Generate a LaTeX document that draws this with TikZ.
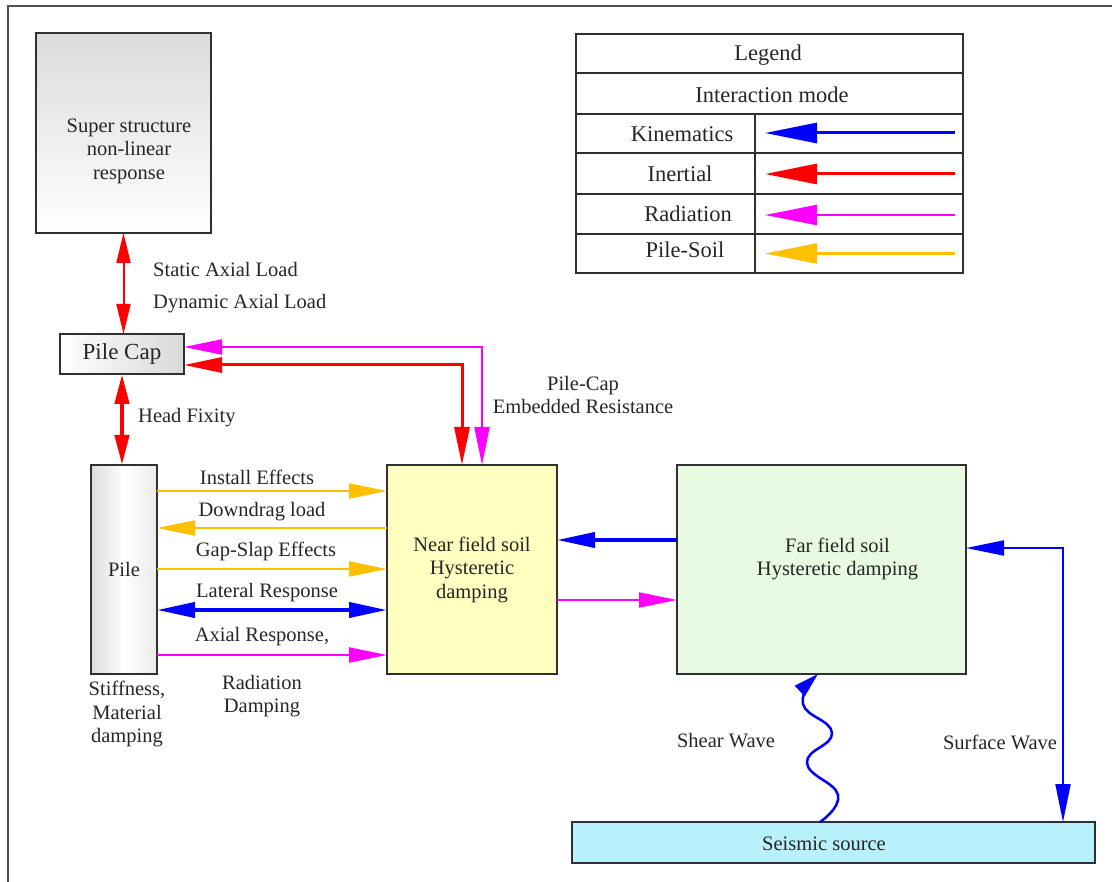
\documentclass[tikz,border=0pt]{standalone}
\usepackage{fontspec}
\setmainfont{Liberation Serif}
\usetikzlibrary{arrows.meta,calc}
\definecolor{ink}{HTML}{262626}
\definecolor{boxline}{HTML}{303030}
\definecolor{framec}{HTML}{505050}
\definecolor{cY}{HTML}{FFC000}
\definecolor{cB}{HTML}{0000FF}
\definecolor{cR}{HTML}{FF0000}
\definecolor{cM}{HTML}{FF00FF}
\definecolor{nearfill}{HTML}{FFFFC0}
\definecolor{farfill}{HTML}{E8FBE2}
\definecolor{seisfill}{HTML}{B8F0FB}
\begin{document}
\begin{tikzpicture}[x=1pt,y=-1pt,
  txt/.style={font=\fontsize{20.5}{23.5}\selectfont, text=ink, align=center, inner sep=0pt},
  ltxt/.style={font=\fontsize{22.5}{25}\selectfont, text=ink, align=center, inner sep=0pt},
  box/.style={draw=boxline, line width=2pt, inner sep=0pt, outer sep=0pt},
  cell/.style={draw=boxline, line width=1.6pt, inner sep=0pt, outer sep=0pt},
  >={Triangle[length=38pt,width=15pt]},
  yline/.style={draw=cY, line width=2pt},
  bline/.style={draw=cB, line width=2pt},
  rline/.style={draw=cR, line width=2pt},
  mline/.style={draw=cM, line width=2pt},
  smalltip/.style={>={Triangle[length=30pt,width=14pt]}},
  bigtip/.style={>={Triangle[length=52pt,width=20pt]}}
]
\useasboundingbox (0,0) rectangle (1112,882);
% outer frame (left and top edges visible)
\draw[framec, line width=2pt] (8,882) -- (8,6) -- (1112,6);

% ---------- main blocks ----------
\node[box, minimum width=175pt, minimum height=200pt, top color=gray!28, bottom color=white] (super) at (123.5,133) {};
\node[txt] (supertxt) at (129,151) {Super structure\\non-linear\\response};

\node[box, minimum width=124pt, minimum height=40pt, left color=white, right color=gray!30,
      font=\fontsize{23}{26}\selectfont, text=ink] (cap) at (122,354) {Pile Cap};

\node[box, minimum width=66pt, minimum height=209pt, left color=gray!28, right color=gray!16, middle color=white,
      txt] (pile) at (124,569.5) {Pile};

\node[box, fill=nearfill, minimum width=170pt, minimum height=209pt, txt] (near) at (472,569.5)
  {Near field soil\\Hysteretic\\damping};

\node[box, fill=farfill, minimum width=289pt, minimum height=209pt] (far) at (821.5,569.5) {};
\node[txt] (fartxt) at (837.5,559) {Far field soil\\Hysteretic damping};

\node[box, fill=seisfill, minimum width=523pt, minimum height=41pt] (seis) at (833.5,842.5) {};
\node[txt] (seistxt) at (824,844) {Seismic source};

% ---------- legend ----------
\node[cell, minimum width=387pt, minimum height=39pt] (lg) at (769.5,53.5) {};
\node[ltxt] (lgt) at (768,55) {Legend};
\node[cell, minimum width=387pt, minimum height=41pt] (im) at (769.5,93.5) {};
\node[ltxt] (imt) at (772,94.5) {Interaction mode};
\node[cell, minimum width=179pt, minimum height=39pt] (kl) at (665.5,133.5) {};
\node[cell, minimum width=208pt, minimum height=39pt] (kr) at (859,133.5) {};
\node[cell, minimum width=179pt, minimum height=41pt] (il) at (665.5,173.5) {};
\node[cell, minimum width=208pt, minimum height=41pt] (ir) at (859,173.5) {};
\node[cell, minimum width=179pt, minimum height=40pt] (rl) at (665.5,214) {};
\node[cell, minimum width=208pt, minimum height=40pt] (rr) at (859,214) {};
\node[cell, minimum width=179pt, minimum height=39pt] (pl) at (665.5,253.5) {};
\node[cell, minimum width=208pt, minimum height=39pt] (pr) at (859,253.5) {};
\node[ltxt] (klt) at (682,134) {Kinematics};
\node[ltxt] (ilt) at (680,174) {Inertial};
\node[ltxt] (rlt) at (688,214) {Radiation};
\node[ltxt] (plt) at (685,250) {Pile-Soil};
\begin{scope}[bigtip]
\draw[bline, line width=3pt, ->] ($(kr.east)+(-8,-0.5)$) -- ($(kr.west)+(10,-0.5)$);
\draw[rline, line width=3pt, ->] ($(ir.east)+(-8,0.5)$) -- ($(ir.west)+(10,0.5)$);
\draw[mline, line width=2.2pt, ->] ($(rr.east)+(-8,1)$) -- ($(rr.west)+(10,1)$);
\draw[yline, line width=2.2pt, ->] ($(pr.east)+(-8,0)$) -- ($(pr.west)+(10,0)$);
\end{scope}

% ---------- connectors ----------
\draw[rline, smalltip, <->] (super.south) -- (super.south |- cap.north);
\draw[rline, smalltip, line width=4.5pt, <->] (cap.south) -- (cap.south |- pile.north);

\draw[mline, <->] ($(cap.east)+(0,-7)$) -| ($(near.north west)+(95,0)$);
\draw[rline, line width=3pt, <->] ($(cap.east)+(0,11)$) -| ($(near.north west)+(75,0)$);

\draw[yline, ->] ($(pile.east)+(0,-78.5)$) -- ($(near.west)+(0,-78.5)$);
\draw[yline, <-] ($(pile.east)+(0,-41.5)$) -- ($(near.west)+(0,-41.5)$);
\draw[yline, ->] ($(pile.east)+(0,-0.5)$) -- ($(near.west)+(0,-0.5)$);
\draw[bline, line width=4pt, <->] ($(pile.east)+(0,40.5)$) -- ($(near.west)+(0,40.5)$);
\draw[mline, ->] ($(pile.east)+(0,85.5)$) -- ($(near.west)+(0,85.5)$);

\draw[bline, line width=4pt, <-] ($(near.east)+(0,-29.5)$) -- ($(far.west)+(0,-29.5)$);
\draw[mline, ->] ($(near.east)+(0,30.5)$) -- ($(far.west)+(0,30.5)$);

\draw[bline, <->] ($(far.east)+(0,-21.5)$) -| ($(seis.north west)+(491,0)$);

\coordinate (sw1) at ($(seis.north west)+(248,0)$);
\coordinate (sw2) at ($(far.south west)+(141,0)$);
\draw[bline, line width=2.5pt, -{Triangle[length=25pt,width=14pt]}]
  plot[smooth, tension=0.8] coordinates {(sw1) (838,795) (807,763) (832,733) (803,704) (sw2)};

% ---------- labels ----------
\node[txt, anchor=west] (lsal) at (153,269) {Static Axial Load};
\node[txt, anchor=west] (ldal) at (153,304) {Dynamic Axial Load};
\node[txt, anchor=west] (lhf) at (138,418) {Head Fixity};
\node[txt] (lpc) at (583,395) {Pile-Cap\\Embedded Resistance};
\node[txt] (lie) at (257,477) {Install Effects};
\node[txt] (ldd) at (262,512) {Downdrag load};
\node[txt] (lgs) at (266,551) {Gap-Slap Effects};
\node[txt] (llr) at (267,593) {Lateral Response};
\node[txt] (lar) at (262,637) {Axial Response,};
\node[txt] (lrd) at (262,696) {Radiation\\Damping};
\node[txt] (lsm) at (127,714) {Stiffness,\\Material\\damping};
\node[txt] (lsw) at (726,741) {Shear Wave};
\node[txt] (lsf) at (1000,742) {Surface Wave};
\end{tikzpicture}
\end{document}
